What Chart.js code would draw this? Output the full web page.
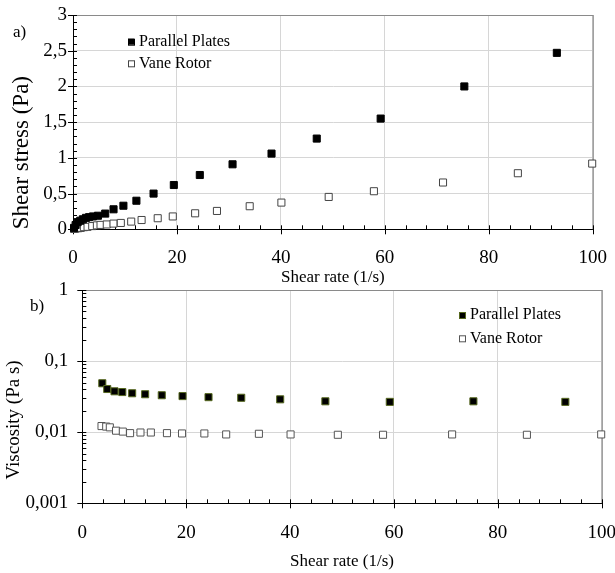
<!DOCTYPE html>
<html>
<head>
<meta charset="utf-8">
<script src="https://cdn.jsdelivr.net/npm/chart.js@4/dist/chart.umd.min.js"></script>
<style>
  body { margin: 0; background: #fff; }
  #wrap { position: relative; width: 615px; height: 573px; overflow: hidden; }
  canvas { position: absolute; left: 0; }
  #stressChart { top: 0; }
  #viscChart { top: 280px; }
</style>
</head>
<body>
<div id="wrap">
  <canvas id="stressChart" width="615" height="288"></canvas>
  <canvas id="viscChart" width="615" height="293"></canvas>
</div>
<script>
const seriesNames = ['Parallel Plates', 'Vane Rotor'];

// a) shear stress vs shear rate
const ppRate = [0.2, 0.5, 0.9, 1.4, 1.9, 2.5, 3.1, 3.85, 4.8, 6.2, 7.8, 9.7, 12.2, 15.5, 19.4, 24.4, 30.7, 38.2, 46.9, 59.2, 75.3, 93.1];
const ppStress = [0.02, 0.06, 0.10, 0.12, 0.14, 0.16, 0.17, 0.18, 0.19, 0.22, 0.28, 0.33, 0.40, 0.50, 0.62, 0.76, 0.91, 1.06, 1.27, 1.55, 2.00, 2.47];
const vrRate = [0.2, 0.5, 1.0, 1.5, 2.1, 2.8, 3.7, 4.6, 5.3, 6.5, 7.8, 9.2, 11.2, 13.2, 16.3, 19.2, 23.5, 27.7, 34.0, 40.1, 49.2, 57.9, 71.2, 85.6, 99.9];
const vrStress = [0.005, 0.01, 0.015, 0.02, 0.03, 0.035, 0.045, 0.055, 0.062, 0.068, 0.08, 0.089, 0.108, 0.13, 0.155, 0.18, 0.224, 0.257, 0.323, 0.374, 0.453, 0.533, 0.655, 0.785, 0.92];

// b) viscosity vs shear rate
const ppViscRate = [3.85, 4.8, 6.2, 7.7, 9.6, 12.1, 15.3, 19.3, 24.3, 30.6, 38.1, 46.8, 59.2, 75.3, 93.0];
const ppVisc = [0.0488, 0.0405, 0.0376, 0.0367, 0.0353, 0.0342, 0.0331, 0.0322, 0.0311, 0.0305, 0.029, 0.0272, 0.0267, 0.0272, 0.0267];
const vrViscRate = [3.7, 4.6, 5.3, 6.5, 7.8, 9.2, 11.2, 13.2, 16.3, 19.2, 23.5, 27.7, 34.0, 40.1, 49.2, 57.9, 71.2, 85.6, 99.9];
const vrVisc = [0.0122, 0.012, 0.0117, 0.0105, 0.0102, 0.0097, 0.0099, 0.0099, 0.0097, 0.0096, 0.0096, 0.0093, 0.0095, 0.0093, 0.0092, 0.0092, 0.0093, 0.0092, 0.0093];

// tick labels
const rateTicks = [0, 20, 40, 60, 80, 100];
const stressTicks = [0, 0.5, 1, 1.5, 2, 2.5, 3];
const viscTicks = [0.001, 0.01, 0.1, 1];

Chart.defaults.font.family = '"Liberation Serif", "Times New Roman", serif';
Chart.defaults.color = '#000';

const toPoints = (xs, ys) => xs.map((v, i) => ({ x: v, y: ys[i] }));
const comma = v => String(v).replace('.', ',');

// minor tick positions
const rateMinor = [];
for (let i = 0; i <= 25; i++) rateMinor.push(i * 4);
const stressMinor = [];
for (let i = 0; i <= 30; i++) stressMinor.push(i / 10);
const viscMinor = [];
[0.001, 0.01, 0.1].forEach(d => { for (let k = 1; k <= 9; k++) viscMinor.push(d * k); });

// frame, tick marks, legend and panel tag
const decor = {
  id: 'decor',
  beforeDatasetsDraw(chart, args, o) {
    const { ctx, chartArea: a, scales: { x, y } } = chart;
    ctx.save();
    ctx.strokeStyle = '#8a8a8a';
    ctx.lineWidth = 1.2;
    ctx.beginPath();
    ctx.moveTo(a.left, a.top + 0.5);
    ctx.lineTo(a.right + 0.5, a.top + 0.5);
    ctx.lineTo(a.right + 0.5, a.bottom);
    ctx.stroke();

    ctx.strokeStyle = '#000';
    ctx.lineWidth = 1;
    ctx.beginPath();
    o.xMinor.forEach(v => {
      const px = Math.round(x.getPixelForValue(v)) + 0.5;
      const major = o.xMajor.includes(v);
      ctx.moveTo(px, a.bottom - 4);
      ctx.lineTo(px, a.bottom + (major ? 5 : 0));
    });
    o.yMinor.forEach(v => {
      const py = Math.round(y.getPixelForValue(v)) + 0.5;
      const major = o.yMajor.some(m => Math.abs(m - v) < 1e-9);
      ctx.moveTo(a.left - (major ? 5 : 0), py);
      ctx.lineTo(a.left + 4, py);
    });
    ctx.stroke();
    ctx.restore();
  },
  afterDraw(chart, args, o) {
    const { ctx } = chart;
    ctx.save();
    ctx.font = '16px "Liberation Serif"';
    ctx.textBaseline = 'middle';
    chart.data.datasets.forEach((ds, i) => {
      const yy = o.legendY + i * o.legendGap;
      ctx.fillStyle = ds.backgroundColor;
      ctx.strokeStyle = ds.borderColor;
      ctx.lineWidth = 1;
      ctx.fillRect(o.legendX - 3, yy - 3, 6, 6);
      ctx.strokeRect(o.legendX - 2.5, yy - 2.5, 6, 6);
      ctx.fillStyle = '#000';
      ctx.fillText(ds.label, o.legendX + 8, yy);
    });
    ctx.font = '17px "Liberation Serif"';
    ctx.fillText(o.tag, o.tagX, o.tagY);
    ctx.restore();
  }
};

const gridColor = '#d6d6d6';

// fixed axis sizes, no label overhang padding
const fixX = h => s => { s.height = h; s.paddingLeft = 0; s.paddingRight = 0; };
const fixY = w => s => { s.width = w; s.paddingTop = 0; s.paddingBottom = 0; };

new Chart(document.getElementById('stressChart'), {
  type: 'scatter',
  data: {
    datasets: [{
      label: seriesNames[0],
      data: toPoints(ppRate, ppStress),
      backgroundColor: '#000',
      borderColor: '#000',
      borderWidth: 1,
      pointStyle: 'rect',
      pointRadius: 5,
      clip: false
    }, {
      label: seriesNames[1],
      data: toPoints(vrRate, vrStress),
      backgroundColor: '#fff',
      borderColor: '#444',
      borderWidth: 1,
      pointStyle: 'rect',
      pointRadius: 5,
      clip: false
    }]
  },
  options: {
    responsive: false,
    animation: false,
    layout: { padding: { left: 0, right: 22.3, top: 15, bottom: 0 } },
    plugins: {
      legend: { display: false },
      tooltip: { enabled: false },
      decor: {
        xMinor: rateMinor, xMajor: rateTicks,
        yMinor: stressMinor, yMajor: stressTicks,
        legendX: 131, legendY: 41.7, legendGap: 21.6,
        tag: 'a)', tagX: 13, tagY: 33
      }
    },
    scales: {
      x: {
        type: 'linear',
        min: 0, max: 100,
        afterFit: fixX(58.7),
        afterBuildTicks: s => { s.ticks = rateTicks.map(v => ({ value: v })); },
        grid: { color: gridColor, drawTicks: false },
        border: { color: '#000', width: 1 },
        ticks: { padding: 17, font: { size: 19 } },
        title: { display: true, text: 'Shear rate (1/s)', font: { size: 17 }, padding: { top: 0, bottom: 0 } }
      },
      y: {
        type: 'linear',
        min: 0, max: 3,
        afterFit: fixY(73),
        afterBuildTicks: s => { s.ticks = stressTicks.map(v => ({ value: v })); },
        grid: { color: gridColor, drawTicks: false },
        border: { color: '#000', width: 1 },
        ticks: { padding: 6, font: { size: 19 }, callback: v => comma(v) },
        title: { display: true, text: 'Shear stress (Pa)', align: 'start', font: { size: 23 }, padding: { top: 7.9, bottom: 0 } }
      }
    }
  },
  plugins: [decor]
});

new Chart(document.getElementById('viscChart'), {
  type: 'scatter',
  data: {
    datasets: [{
      label: seriesNames[0],
      data: toPoints(ppViscRate, ppVisc),
      backgroundColor: '#000',
      borderColor: '#56681f',
      borderWidth: 1,
      pointStyle: 'rect',
      pointRadius: 5,
      clip: false
    }, {
      label: seriesNames[1],
      data: toPoints(vrViscRate, vrVisc),
      backgroundColor: '#fff',
      borderColor: '#555',
      borderWidth: 1,
      pointStyle: 'rect',
      pointRadius: 5,
      clip: false
    }]
  },
  options: {
    responsive: false,
    animation: false,
    layout: { padding: { left: 0, right: 13.3, top: 10, bottom: 1 } },
    plugins: {
      legend: { display: false },
      tooltip: { enabled: false },
      decor: {
        xMinor: rateMinor, xMajor: rateTicks,
        yMinor: viscMinor.concat([1]), yMajor: viscTicks,
        legendX: 462, legendY: 35, legendGap: 23.3,
        tag: 'b)', tagX: 30, tagY: 26.7
      }
    },
    scales: {
      x: {
        type: 'linear',
        min: 0, max: 100,
        afterFit: fixX(68.7),
        afterBuildTicks: s => { s.ticks = rateTicks.map(v => ({ value: v })); },
        grid: { color: gridColor, drawTicks: false },
        border: { color: '#000', width: 1 },
        ticks: { padding: 18.4, font: { size: 19 } },
        title: { display: true, text: 'Shear rate (1/s)', font: { size: 17 }, padding: { top: 0, bottom: 0 } }
      },
      y: {
        type: 'logarithmic',
        min: 0.001, max: 1,
        afterFit: fixY(82.3),
        afterBuildTicks: s => { s.ticks = viscTicks.map(v => ({ value: v })); },
        grid: { color: gridColor, drawTicks: false },
        border: { color: '#000', width: 1 },
        ticks: { padding: 14, font: { size: 19 }, callback: v => comma(v) },
        title: { display: true, text: '     Viscosity (Pa s)', align: 'start', font: { size: 19 }, padding: { top: 2.3, bottom: 0 } }
      }
    }
  },
  plugins: [decor]
});
</script>
</body>
</html>
